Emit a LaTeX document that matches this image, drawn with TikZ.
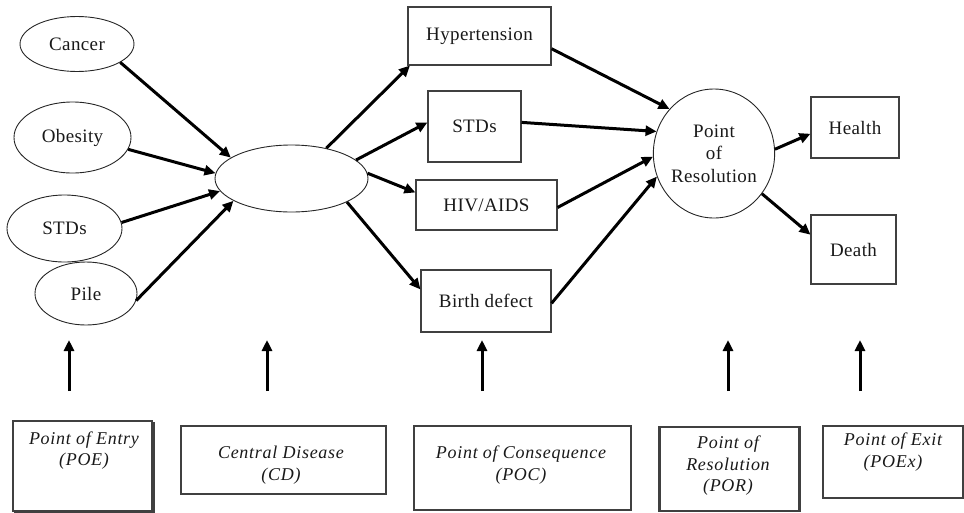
\documentclass[tikz,border=0pt]{standalone}
\usepackage{fontspec}
\setmainfont{Liberation Serif}
\usetikzlibrary{arrows.meta,shapes.geometric,shadows}
\begin{document}
\begin{tikzpicture}[x=1pt,y=-1pt,
  ell/.style={draw=black!85,line width=0.9pt,ellipse,inner sep=0pt,align=center,
    font=\fontsize{19}{22.5}\selectfont\addfontfeatures{LetterSpace=2},text=black!90},
  rbox/.style={draw=black!75,line width=1.1pt,rectangle,inner sep=0pt,
    font=\fontsize{19}{22.5}\selectfont\addfontfeatures{LetterSpace=2},text=black!90},
  lbox/.style={draw=black!75,line width=1.1pt,rectangle,inner sep=0pt,fill=white},
  ltxt/.style={align=center,inner sep=0pt,
    font=\fontsize{18}{21.5}\selectfont\itshape\addfontfeatures{LetterSpace=4},text=black!90},
  arr/.style={line width=3pt,-{Triangle[length=11pt,width=10pt]}},
]
\useasboundingbox (0,0) rectangle (964,512);

% left ellipses
\node[ell,minimum width=114pt,minimum height=55pt] (cancer) at (77,44) {Cancer};
\node[ell,minimum width=117pt,minimum height=71pt] (obesity) at (72.5,137.5) {Obesity};
\node[ell,minimum width=115pt,minimum height=67pt] (stdsA) at (64.5,228.5) {STDs};
\node[ell,minimum width=102pt,minimum height=63pt] (pile) at (86,293.5) {Pile};

% central disease
\node[ell,minimum width=153pt,minimum height=67pt] (cd) at (291.5,178.5) {};

% consequences
\node[rbox,minimum width=143pt,minimum height=58pt] (hyp) at (479.5,36) {Hypertension};
\node[rbox,minimum width=93pt,minimum height=71pt] (stdsB) at (474.5,126.5) {STDs};
\node[rbox,minimum width=141pt,minimum height=50pt] (hiv) at (486.5,205) {HIV/AIDS};
\node[rbox,minimum width=130pt,minimum height=62pt] (birth) at (486,301) {Birth defect};

% resolution
\node[ell,minimum width=118pt,minimum height=129pt] (por) at (714,153.5) {Point\\of\\Resolution};

% exits
\node[rbox,minimum width=88pt,minimum height=61pt] (health) at (855,127.5) {Health};
\node[rbox,minimum width=85pt,minimum height=69pt] (death) at (853.5,249.5) {Death};

% arrows into central disease
\draw[arr] (cancer.-23) -- (cd.161);
\draw[arr] (obesity.-12) -- (cd.176);
\draw[arr] (stdsA.6) -- (cd.190);
\draw[arr] (pile.-8) -- (cd.201);

% arrows out of central disease
\draw[arr] (cd.41) -- (hyp.203);
\draw[arr] (cd.16) -- (stdsB.175);
\draw[arr] (cd.4) -- (hiv.170);
\draw[arr] (cd.-23) -- (birth.170);

% arrows into resolution
\draw[arr] (hyp.-10) -- (por.135);
\draw[arr] (stdsB.5) -- (por.159);
\draw[arr] (hiv.-2) -- (por.183);
\draw[arr] (birth.-2) -- (por.202);

% arrows to exits
\draw[arr] (por.4) -- (health.188);
\draw[arr] (por.-40) -- (death.161);

% vertical arrows
\coordinate (v1b) at (69,391);   \coordinate (v1t) at (69,340);
\coordinate (v2b) at (267,391);  \coordinate (v2t) at (267,340);
\coordinate (v3b) at (482,391);  \coordinate (v3t) at (482,340);
\coordinate (v4b) at (728,391);  \coordinate (v4t) at (728,340);
\coordinate (v5b) at (860,391);  \coordinate (v5t) at (860,340);
\foreach \i in {1,...,5} \draw[arr] (v\i b) -- (v\i t);

% bottom legend boxes
\node[lbox,minimum width=139pt,minimum height=90pt,
  copy shadow={shadow xshift=2pt,shadow yshift=-2pt}] (poeB) at (82.5,466) {};
\node[ltxt] (poeT) at (84,450.5) {Point of Entry\\(POE)};

\node[lbox,minimum width=205pt,minimum height=68pt] (cdB) at (283.5,460) {};
\node[ltxt] (cdT) at (281,465) {Central Disease\\(CD)};

\node[lbox,minimum width=217pt,minimum height=84pt] (pocB) at (522.5,468) {};
\node[ltxt] (pocT) at (521,465) {Point of Consequence\\(POC)};

\node[lbox,minimum width=139pt,minimum height=84pt] (porB) at (729.5,469) {};
\draw[line width=2pt,black!75] (porB.north west) -- (porB.south west);
\draw[line width=2pt,black!75] (porB.north east) -- (porB.south east);
\node[ltxt] (porT) at (728,466) {Point of\\Resolution\\(POR)};

\node[lbox,minimum width=140pt,minimum height=72pt] (poexB) at (893,462) {};
\node[ltxt] (poexT) at (893,452) {Point of Exit\\(POEx)};
\end{tikzpicture}
\end{document}
